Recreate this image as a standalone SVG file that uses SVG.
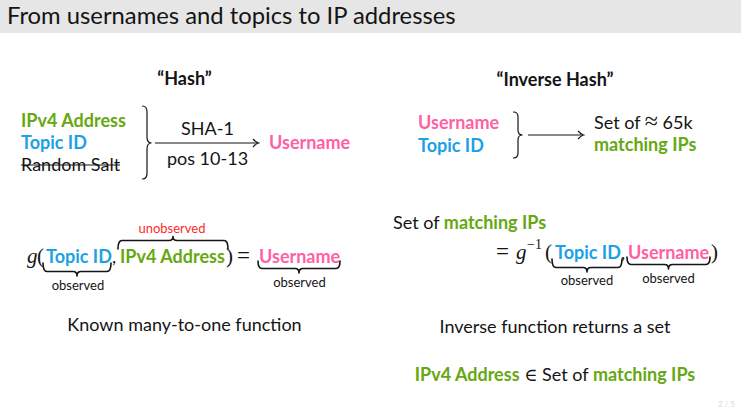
<svg xmlns="http://www.w3.org/2000/svg" width="741" height="408" viewBox="0 0 741 408">
<style>
text{font-family:Lato,"DejaVu Sans",sans-serif;fill:#141414}
.b{font-weight:bold}
.t{font-size:18px}
.s{font-size:13px}
.g{fill:#66a812}
.bl{fill:#1ba1e6}
.p{fill:#ff5fa5}
.r{fill:#ff2a2a}
.m{font-family:"Liberation Serif","DejaVu Serif",serif}
.br{fill:none;stroke:#141414;stroke-width:1.6;stroke-linejoin:round;stroke-linecap:round}
.vb{fill:none;stroke:#141414;stroke-width:1.2;stroke-linecap:round}
.ar{fill:none;stroke:#141414;stroke-width:1.2}
</style>
<defs>
<marker id="ah" markerWidth="8" markerHeight="10" refX="6" refY="5" orient="auto" markerUnits="userSpaceOnUse">
<path d="M1,1 Q4,4.3 6.5,5 Q4,5.7 1,9" fill="none" stroke="#141414" stroke-width="1.2"/>
</marker>
</defs>
<rect x="0" y="0" width="741" height="33" fill="#e6e6e6"/>
<text x="7" y="24" style="font-size:23.8px">From usernames and topics to IP addresses</text>

<g id="hash">
<text x="184.5" y="85" class="t b" text-anchor="middle">“Hash”</text>
<text x="21" y="127" class="t b g">IPv4 Address</text>
<text x="21" y="149" class="t b bl">Topic ID</text>
<text x="21" y="171" class="t">Random Salt</text>
<line x1="21" y1="165" x2="120" y2="165" stroke="#141414" stroke-width="1.2"/>
<path class="vb" d="M142.5,106 Q147,106 147,112 L147,137 Q147,143 151.5,143 Q147,143 147,149 L147,173 Q147,179 142.5,179"/>
<text x="207.5" y="135" class="t" text-anchor="middle">SHA-1</text>
<text x="207.5" y="165" class="t" text-anchor="middle">pos 10-13</text>
<text x="269" y="149" class="t b p">Username</text>
</g>

<g id="inverse-hash">
<text x="555" y="86" class="t b" text-anchor="middle">“Inverse Hash”</text>
<text x="418" y="129" class="t b p">Username</text>
<text x="418" y="152" class="t b bl">Topic ID</text>
<path class="vb" d="M513.5,112 Q518,112 518,117 L518,130 Q518,135 522.5,135 Q518,135 518,140 L518,153 Q518,158 513.5,158"/>
<text x="594" y="129" class="t">Set of <tspan class="m" style="font-size:24px">≈</tspan> 65k</text>
<text x="594" y="151" class="t b g">matching IPs</text>
</g>

<g id="connectors">
<line class="ar" x1="155" y1="143" x2="258" y2="143" marker-end="url(#ah)"/>
<line class="ar" x1="528" y1="135" x2="583" y2="135" marker-end="url(#ah)"/>
</g>

<g id="forward-function">
<text x="27" y="263" class="m" style="font-size:21px;font-style:italic">g</text>
<text x="37" y="263" class="m" style="font-size:21px">(</text>
<text x="46" y="263" class="t b bl">Topic ID</text>
<text x="112" y="263" class="t">,</text>
<text x="120" y="263" class="t b g">IPv4 Address</text>
<text x="226" y="263" class="m" style="font-size:21px">)</text>
<text x="237" y="263" class="m" style="font-size:23px">=</text>
<text x="259" y="263" class="t b p">Username</text>
<text x="172" y="233" class="s r" text-anchor="middle">unobserved</text>
<path class="br" d="M118,249 Q118,240.5 122,240.5 L169,240.5 Q173,240.5 173,236.5 Q173,240.5 177,240.5 L224,240.5 Q228,240.5 228,249"/>
<path class="br" d="M43,263 Q43,271.5 47,271.5 L73,271.5 Q77,271.5 77,276 Q77,271.5 81,271.5 L107,271.5 Q111,271.5 111,263"/>
<text x="78" y="290" class="s" text-anchor="middle">observed</text>
<path class="br" d="M258,261 Q258,268.5 262,268.5 L295,268.5 Q299,268.5 299,273 Q299,268.5 303,268.5 L336,268.5 Q340,268.5 340,261"/>
<text x="299.5" y="287" class="s" text-anchor="middle">observed</text>
<text x="184.5" y="331" class="t" text-anchor="middle">Known many-to-one function</text>
</g>

<g id="inverse-function">
<text x="393" y="229" class="t">Set of <tspan class="b g">matching IPs</tspan></text>
<text x="496" y="259" class="m" style="font-size:23px">=</text>
<text x="516" y="259" class="m" style="font-size:21px;font-style:italic">g</text>
<text x="527" y="249" class="m" style="font-size:14px">−1</text>
<text x="545" y="259" class="m" style="font-size:21px">(</text>
<text x="555" y="259" class="t b bl">Topic ID</text>
<text x="621" y="259" class="t">,</text>
<text x="628" y="259" class="t b p">Username</text>
<text x="711" y="259" class="m" style="font-size:21px">)</text>
<path class="br" d="M552,259 Q552,267.5 556,267.5 L583,267.5 Q587,267.5 587,272 Q587,267.5 591,267.5 L618,267.5 Q622,267.5 622,259"/>
<text x="587" y="285" class="s" text-anchor="middle">observed</text>
<path class="br" d="M627,257 Q627,264.5 631,264.5 L664.5,264.5 Q668.5,264.5 668.5,269 Q668.5,264.5 672.5,264.5 L706,264.5 Q710,264.5 710,257"/>
<text x="668.5" y="283" class="s" text-anchor="middle">observed</text>
<text x="555" y="333" class="t" text-anchor="middle">Inverse function returns a set</text>
<text x="555" y="381" class="t" text-anchor="middle"><tspan class="b g">IPv4 Address</tspan> <tspan class="m">∈</tspan> Set of <tspan class="b g">matching IPs</tspan></text>
</g>

<text x="735" y="407" style="font-size:8px;fill:#d8d8d8" text-anchor="end">2 / 5</text>
</svg>
